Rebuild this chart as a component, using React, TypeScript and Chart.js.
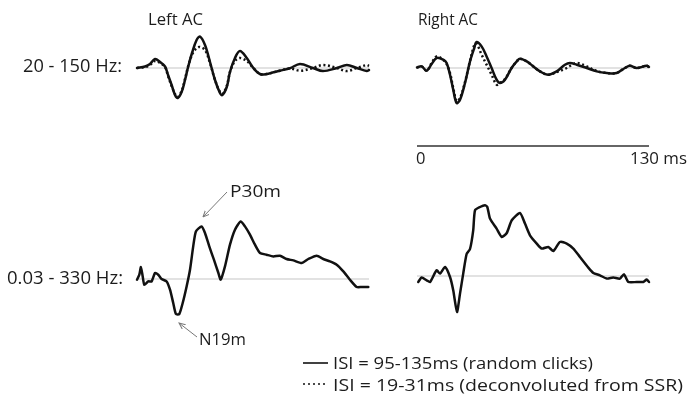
import React, { useEffect, useLayoutEffect, useRef } from "react";
import { Chart, registerables } from "chart.js";
Chart.register(...registerables);

// Time (ms) and amplitude (a.u.)
const TL_T = [0, 4.5, 7.3, 10.1, 12.9, 15.7, 17.4, 19.4, 21.3, 22.8, 25, 26.9, 28.7, 31, 33.4, 35.3, 38.1, 40.9, 43.7, 46.5, 47.8, 50.3, 52.1, 54.9, 57.7, 61.5, 65.2, 68.9, 72.7, 76, 80, 85.7, 91.3, 98.6, 104.2, 112, 117.6, 123.2, 128.8, 130];
const TL_SOLID = [0, 1.5, 4, 9, 6, 1.5, -7, -17, -27, -30, -24, -12, 1.5, 16, 28, 31.5, 23, 6, -12, -25, -27, -19, -4, 10, 17, 10, 0, -6, -6, -4.5, -2.7, -0.3, 4, 0, -3, 0, 3, 0, -3, -2];
const TL_DOTTED = [0, 1, 3, 7, 5, 1, -8, -18, -26, -29, -23, -11, 2, 14, 20, 21, 18, 5, -12, -24, -26, -18, -4, 7, 10, 7, 0, -6, -6, -4.5, -2.7, -0.5, -2.7, 0, 3, 0, -3, 0, 3, 2];

const TR_T = [0, 2.6, 5.4, 8.2, 11, 14.7, 16.6, 18.5, 20.3, 22.2, 24.1, 26.9, 29.7, 32.1, 33.4, 36.2, 39, 41.8, 44.6, 46.5, 49.3, 53, 55.9, 57.7, 61.5, 65.2, 68.9, 73.6, 78.3, 82.9, 85.7, 89.5, 95.1, 100.7, 106.3, 111.9, 116.5, 119.3, 123.1, 128.7, 130];
const TR_SOLID = [0.5, 1.6, -2.7, 4, 10, 8.3, 5, -6.7, -21.7, -35, -31.7, -15, 6.6, 20, 26, 21.6, 11.6, 0, -11.7, -15, -11.7, 0, 6.6, 9.3, 6.6, 1.6, -3.4, -6.7, -3.4, 3.3, 5, 3.3, 0, -3.4, -5, -5, 0, 2.3, 0, 2.3, 1];
const TR_DOTTED = [0.5, 1.6, -2.7, 5, 11.6, 8, 4, -5, -20, -33, -30, -14, 7, 23, 24.5, 13.3, 3.3, -6.7, -16.7, -15, -11, 0, 6.6, 9.3, 6.6, 1.6, -3.4, -6.7, -4, -1, 2, 5, 1.5, -3, -5, -5, 0, 2.3, 0, 2.3, 1];

const BL_T = [0, 1.3, 2.2, 3.2, 4.1, 6.3, 8.2, 10.1, 11.9, 13.8, 16.6, 18.5, 20.3, 21.8, 23.7, 25.6, 27.8, 29.7, 31.5, 33, 36.2, 38.1, 40.5, 43.1, 45.6, 46.9, 49.3, 52.1, 54.9, 58.1, 60.5, 63.3, 66.1, 68.9, 72.6, 76.4, 80.1, 83.8, 87.6, 92.3, 96, 100.7, 104.4, 108.1, 111.9, 115.6, 119.3, 123.1, 125.9, 129.6];
const BL_SOLID = [-0.7, 4.3, 12, 2.6, -5.7, -2.4, -2.4, 6, 4.3, 0, -2.4, -10.7, -24, -35, -35, -24, -7.4, 9.3, 32.6, 47.6, 52.6, 46, 32.6, 19.3, 6, -0.7, 12.6, 34.3, 49.3, 57.6, 52.6, 44.3, 34.3, 26, 24.3, 22.6, 23.3, 20, 18.6, 16, 20, 23.3, 20, 17.6, 14.3, 7.6, -0.7, -8, -8, -8];

const BR_T = [0.7, 2.6, 5.4, 7.3, 11, 12.9, 15.7, 18.5, 20.3, 22.4, 24.1, 25.9, 27.8, 29.7, 31.5, 32.5, 35.3, 38.1, 39.4, 40.9, 44.6, 47.5, 50.3, 53.1, 57.7, 60.5, 63.3, 67.1, 69.9, 73.6, 76.4, 80.1, 83.9, 87.6, 91.3, 96, 98.8, 102.5, 106.3, 110, 113.7, 116, 118.4, 123.1, 126.8, 128.7, 130];
const BR_SOLID = [-6, -1.6, -4.3, -6, 5.7, 2.4, 9, -1, -14.3, -36, -17.6, 2.4, 22, 27, 45.7, 65.7, 69, 70.7, 69, 57.4, 47.4, 39, 43, 55.7, 63, 52.4, 40.7, 32.4, 27.4, 29, 25, 34, 32.4, 27.4, 19, 8.4, 3, 0.7, -2.6, -1.6, -2.6, 1.7, -6, -6, -6, -3.6, -6];

const T_RANGE = [0, 130];
const LEGEND_LABELS = ["ISI = 95-135ms (random clicks)", "ISI = 19-31ms (deconvoluted from SSR)"];

const PAD = 8;
const FONT = "'Open Sans', 'Noto Sans', sans-serif";

type PanelProps = {
  left: number; top: number; width: number; height: number;
  t: number[]; solid: number[]; dotted?: number[];
  yMin: number; yMax: number; tension: number;
};

function Panel(p: PanelProps) {
  const ref = useRef<HTMLCanvasElement>(null);
  useEffect(() => {
    if (!ref.current) return;
    const pts = (vals: number[]) => p.t.map((x, i) => ({ x, y: vals[i] }));
    const common = {
      pointRadius: 0, borderColor: "#111", borderWidth: 2.5, tension: p.tension,
      borderJoinStyle: "round" as const, clip: false as any, fill: false,
    };
    const datasets: any[] = [{ ...common, label: "solid", data: pts(p.solid), borderCapStyle: "round" }];
    if (p.dotted) datasets.push({ ...common, label: "dotted", data: pts(p.dotted), borderDash: [2, 2.6], borderCapStyle: "butt" });
    datasets.push({
      label: "baseline", data: [{ x: T_RANGE[0], y: 0 }, { x: T_RANGE[1], y: 0 }],
      borderColor: "#c6c6c6", borderWidth: 1.2, pointRadius: 0, clip: false,
    });
    const chart = new Chart(ref.current, {
      type: "line",
      data: { datasets },
      options: {
        animation: false, responsive: false, events: [],
        layout: { padding: PAD },
        plugins: { legend: { display: false }, tooltip: { enabled: false } },
        scales: {
          x: { type: "linear", min: T_RANGE[0], max: T_RANGE[1], display: false },
          y: { min: p.yMin, max: p.yMax, display: false },
        },
      },
    });
    return () => chart.destroy();
  }, []);
  const w = p.width + 2 * PAD, h = p.height + 2 * PAD;
  return (
    <canvas ref={ref} width={w} height={h}
      style={{ position: "absolute", left: p.left - PAD, top: p.top - PAD, width: w, height: h }} />
  );
}

// Text placed by left edge and cap-centre; optionally stretched to a target width.
function Txt({ x, y, size, w, children }: { x: number; y: number; size: number; w?: number; children: any }) {
  const ref = useRef<HTMLDivElement>(null);
  useLayoutEffect(() => {
    const el = ref.current;
    if (!el || !w) return;
    const natural = el.getBoundingClientRect().width;
    if (natural > 0) el.style.transform = `scaleX(${w / natural})`;
  });
  return (
    <div ref={ref} style={{
      position: "absolute", left: x, top: y - size * 0.53, fontFamily: FONT, fontSize: size,
      lineHeight: 1, whiteSpace: "nowrap", color: "#1c1c1c", transformOrigin: "0 0",
    }}>{children}</div>
  );
}

export default function App() {
  return (
    <div style={{ position: "absolute", left: 0, top: 0, width: 692, height: 405, background: "#fff", overflow: "hidden" }}>
      <Panel left={137} top={28} width={232} height={80} t={TL_T} solid={TL_SOLID} dotted={TL_DOTTED} yMin={-40} yMax={40} tension={0.35} />
      <Panel left={417} top={28} width={232} height={80} t={TR_T} solid={TR_SOLID} dotted={TR_DOTTED} yMin={-40} yMax={40} tension={0.35} />
      <Panel left={137} top={194} width={232} height={127} t={BL_T} solid={BL_SOLID} yMin={-42} yMax={85} tension={0.2} />
      <Panel left={417} top={191} width={232} height={127} t={BR_T} solid={BR_SOLID} yMin={-42} yMax={85} tension={0.2} />

      <svg width={692} height={405} style={{ position: "absolute", left: 0, top: 0, pointerEvents: "none" }}>
        <defs>
          <marker id="ah" viewBox="0 0 10 10" refX="9" refY="5" markerWidth="7" markerHeight="7" orient="auto-start-reverse">
            <path d="M0,1 L9,5 L0,9" fill="none" stroke="#777" strokeWidth="1.4" />
          </marker>
        </defs>
        <line x1={417} y1={146} x2={649} y2={146} stroke="#333" strokeWidth={1.6} />
        <line x1={227} y1={192} x2={203} y2={217} stroke="#777" strokeWidth={1} markerEnd="url(#ah)" />
        <line x1={197} y1={337} x2={179} y2={323} stroke="#777" strokeWidth={1} markerEnd="url(#ah)" />
        <line x1={303} y1={363} x2={328} y2={363} stroke="#111" strokeWidth={1.6} />
        <line x1={303} y1={384} x2={328} y2={384} stroke="#111" strokeWidth={1.6} strokeDasharray="2 3" />
      </svg>

      <Txt x={148} y={19} size={16} w={55}>Left AC</Txt>
      <Txt x={418} y={19} size={16} w={60}>Right AC</Txt>
      <Txt x={23} y={66} size={18} w={99}>20 - 150 Hz:</Txt>
      <Txt x={7} y={278} size={17.5} w={116}>0.03 - 330 Hz:</Txt>
      <Txt x={230} y={191} size={16} w={51}>P30m</Txt>
      <Txt x={199} y={339} size={16} w={47}>N19m</Txt>
      <Txt x={416} y={159} size={16.5}>0</Txt>
      <Txt x={630} y={159} size={16.5} w={57}>130 ms</Txt>
      <Txt x={333} y={363} size={16} w={260}>{LEGEND_LABELS[0]}</Txt>
      <Txt x={333} y={385} size={16} w={350}>{LEGEND_LABELS[1]}</Txt>
    </div>
  );
}
